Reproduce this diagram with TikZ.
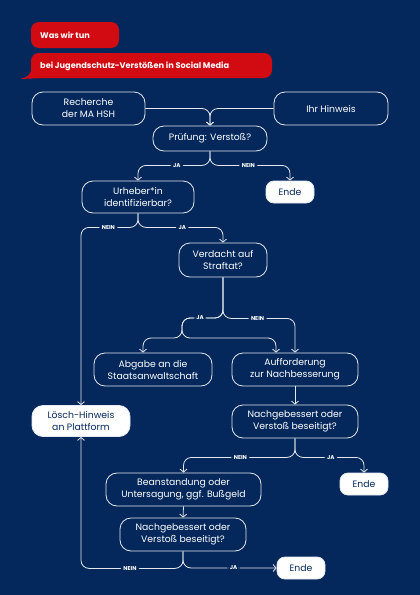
\documentclass[tikz,border=0pt]{standalone}
\usepackage{fontspec}
\setmainfont{Poppins}
\usetikzlibrary{arrows.meta}
\definecolor{navy}{HTML}{04285B}
\definecolor{signal}{HTML}{D20B13}
\definecolor{strich}{HTML}{E4E8EF}
\tikzset{
  box/.style={draw=strich, line width=0.8pt, rounded corners=11pt, text=white, align=center, inner sep=0pt, font=\fontsize{9.3}{12}\selectfont},
  whitebox/.style={box, fill=white, text=navy},
  endbox/.style={whitebox, rounded corners=8pt, minimum width=48pt, minimum height=22pt},
  flow/.style={draw=strich, line width=0.8pt, rounded corners=8pt, -{Straight Barb[length=3pt,width=7pt]}},
  lbl/.style={fill=navy, text=white, inner sep=2.5pt, font=\fontsize{5.6}{6}\selectfont\bfseries},
  kopf/.style={anchor=west, text=white, inner sep=0pt, font=\fontsize{8.2}{10}\selectfont\bfseries},
}

\begin{document}
\begin{tikzpicture}[x=1pt, y=-1pt]
\useasboundingbox (0,0) rectangle (420,595);
\fill[navy] (0,0) rectangle (420,595);

% header bubbles
\fill[signal, rounded corners=8pt] (31,22) rectangle (119,48);
\fill[signal, rounded corners=8pt] (31,53) rectangle (272,78);
\fill[signal] (31,62) -- (31,71) .. controls (30,75) and (26,78) .. (20,79) -- (42,78) -- (42,62) -- cycle;
\node[kopf] (titel) at (40,35) {Was wir tun};
\node[kopf] (untertitel) at (40,66) {bei Jugendschutz-Verstößen in Social Media};

% boxes
\node[box, minimum width=113pt, minimum height=33pt] (recherche) at (88.5,108.5) {Recherche\\der MA HSH};
\node[box, minimum width=114pt, minimum height=33pt] (hinweis) at (331,108.5) {Ihr Hinweis};
\node[box, minimum width=114pt, minimum height=25pt] (pruefung) at (210,138.5) {Prüfung: Verstoß?};
\node[box, minimum width=112pt, minimum height=32pt] (urheber) at (138,197) {Urheber*in\\identifizierbar?};
\node[endbox] (ende1) at (290,192) {Ende};
\node[box, minimum width=88pt, minimum height=34pt] (verdacht) at (223,260) {Verdacht auf\\Straftat?};
\node[box, minimum width=118pt, minimum height=33pt] (abgabe) at (153,369.5) {Abgabe an die\\Staatsanwaltschaft};
\node[box, minimum width=126pt, minimum height=33pt] (aufforderung) at (295,369.5) {Aufforderung\\zur Nachbesserung};
\node[whitebox, minimum width=98pt, minimum height=31pt] (loesch) at (81,421) {Lösch-Hinweis\\an Plattform};
\node[box, minimum width=126pt, minimum height=33pt] (nach1) at (295,421.5) {Nachgebessert oder\\Verstoß beseitigt?};
\node[box, minimum width=155pt, minimum height=33pt] (beanst) at (183.5,489.5) {Beanstandung oder\\Untersagung, ggf. Bußgeld};
\node[endbox] (ende2) at (364,484) {Ende};
\node[box, minimum width=126pt, minimum height=33pt] (nach2) at (183,534.5) {Nachgebessert oder\\Verstoß beseitigt?};
\node[endbox] (ende3) at (301,568) {Ende};

% connectors
\coordinate (knick) at (182,318);
\draw[flow] (recherche.east) -| (pruefung.north);
\draw[flow] (hinweis.west) -| (pruefung.north);
\draw[flow] (pruefung.south) -- ++(0,14) -| node[lbl, pos=0.23] {JA} (urheber.north);
\draw[flow] (pruefung.south) -- ++(0,14) -| node[lbl, pos=0.24] {NEIN} (ende1.north);
\draw[flow] (urheber.south) -- ++(0,14) -| node[lbl, pos=0.26] {NEIN} (loesch.north);
\draw[flow] (urheber.south) -- ++(0,14) -| node[lbl, pos=0.26] {JA} (verdacht.north);
\draw[flow] (verdacht.south) |- (knick) -- ++(0,20) -| ([xshift=-10pt]abgabe.north);
\draw[flow] (verdacht.south) |- node[lbl, pos=0.78] {JA} (knick) -- ++(0,20) -| ([xshift=-19pt]aufforderung.north);
\draw[flow] (verdacht.south) -- ++(0,41) -| node[lbl, pos=0.24] {NEIN} (aufforderung.north);
\draw[flow] (aufforderung.south) -- (nach1.north);
\draw[flow] (nach1.south) -- ++(0,19) -| node[lbl, pos=0.245] {NEIN} (beanst.north);
\draw[flow] (nach1.south) -- ++(0,19) -| node[lbl, pos=0.26] {JA} (ende2.north);
\draw[flow] (beanst.south) -- (nach2.north);
\draw[flow] (nach2.south) -- ++(0,17) -| node[lbl, pos=0.26] {NEIN} (loesch.south);
\draw[flow] (nach2.south) |- node[lbl, pos=0.77] {JA} (ende3.west);
\end{tikzpicture}
\end{document}
